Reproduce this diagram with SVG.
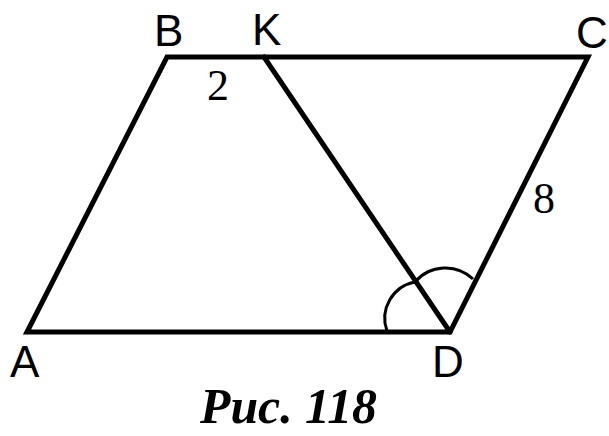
<svg xmlns="http://www.w3.org/2000/svg" width="609" height="436" viewBox="0 0 609 436">
<style>
.ln{fill:none;stroke:#000;stroke-width:5;stroke-linejoin:miter;stroke-linecap:round}
.arc{fill:none;stroke:#000;stroke-width:3}
.lbl{font-family:"Liberation Sans",Arial,sans-serif;font-size:44px;fill:#000}
.num{font-family:"Liberation Serif","Times New Roman",serif;font-size:44px;fill:#000}
.cap{font-family:"Liberation Serif","Times New Roman",serif;font-size:50px;font-weight:bold;font-style:italic;fill:#000}
</style>
<rect width="609" height="436" fill="#fff"/>
<g id="connectors">
<path class="ln" d="M27,332 L167,57 L588,57 L450,332 Z"/>
<path class="ln" d="M264,57 L450,332"/>
<path class="arc" d="M387,331 A37,37 0 0 1 415,282"/>
<path class="arc" d="M415,282 A40,40 0 0 1 473,279"/>
</g>
<g id="A"><text class="lbl" x="10" y="377">A</text></g>
<g id="B"><text class="lbl" x="154" y="46">B</text></g>
<g id="K"><text class="lbl" x="252" y="45">K</text></g>
<g id="C"><text class="lbl" x="576" y="48">C</text></g>
<g id="D"><text class="lbl" x="432" y="377">D</text></g>
<g id="label-2"><text class="num" x="207" y="100">2</text></g>
<g id="label-8"><text class="num" x="533" y="213">8</text></g>
<g id="caption"><text class="cap" x="200" y="423" textLength="177" lengthAdjust="spacingAndGlyphs">Рис. 118</text></g>
</svg>
